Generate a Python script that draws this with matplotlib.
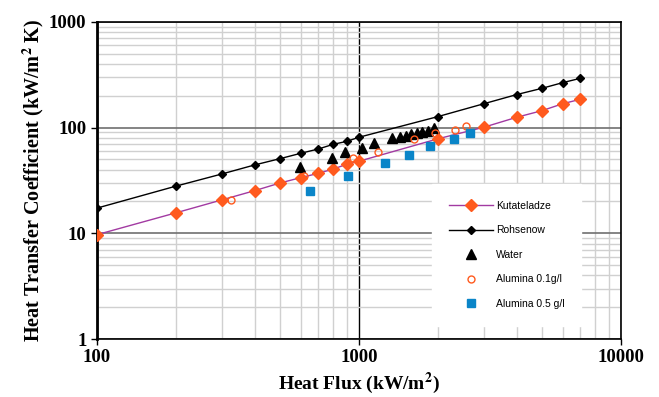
import numpy as np
import matplotlib.pyplot as plt
from matplotlib.ticker import LogLocator, NullFormatter, FixedLocator

# data
q_model = [100, 200, 300, 400, 500, 600, 700, 800, 900, 1000, 2000, 3000, 4000, 5000, 6000, 7000]
h_kutateladze = [9.7, 15.6, 20.7, 25.3, 29.9, 33.6, 36.9, 40.6, 45.0, 48.0, 78.2, 100.7, 125, 144.5, 168, 185]
h_rohsenow = [17.3, 27.9, 36.4, 44.3, 50.8, 57.1, 62.7, 69.5, 74.1, 80.9, 126.8, 168, 205, 235, 266, 292]

q_water = [597, 790, 886, 1027, 1145, 1340, 1434, 1508, 1575, 1661, 1747, 1843, 1938]
h_water = [42.7, 51.8, 58.4, 63.7, 71.0, 79.2, 82.0, 83.8, 87.0, 88.3, 91.5, 93.5, 98.5]

q_al01 = [325, 620, 954, 1180, 1622, 1954, 2327, 2566]
h_al01 = [20.5, 35.1, 51.2, 58.8, 77.5, 89.5, 94.9, 103.5]

q_al05 = [650, 910, 1262, 1548, 1863, 2307, 2666]
h_al05 = [25.1, 34.6, 45.9, 54.7, 66.5, 77.5, 88.3]

plt.rcParams['mathtext.fontset'] = 'stix'

fig = plt.figure(figsize=(6.59, 3.97), dpi=100)
ax = fig.add_axes([0.147, 0.146, 0.795, 0.799])

ax.plot(q_model, h_kutateladze, color='#a23aa2', lw=1.0, marker='D', ms=6,
        mfc='#ff5a1e', mec='#ff5a1e', label='Kutateladze', zorder=4)
ax.plot(q_model, h_rohsenow, color='black', lw=1.0, marker='D', ms=4.5,
        mfc='black', mec='black', label='Rohsenow', zorder=4)
ax.plot(q_water, h_water, ls='none', marker='^', ms=6.5, color='black',
        label='Water', zorder=5)
ax.plot(q_al01, h_al01, ls='none', marker='o', ms=5, mfc='none',
        mec='#ff5a1e', mew=1.0, label='Alumina 0.1g/l', zorder=5)
ax.plot(q_al05, h_al05, ls='none', marker='s', ms=5.5, color='#0a85c8',
        label='Alumina 0.5 g/l', zorder=5)

ax.set_xscale('log')
ax.set_yscale('log')
ax.set_xlim(100, 10000)
ax.set_ylim(1, 1000)

# grid: light minor lines, darker major lines
ax.xaxis.set_minor_locator(LogLocator(base=10, subs=np.arange(2, 10)))
ax.yaxis.set_minor_locator(LogLocator(base=10, subs=np.arange(2, 10)))
ax.xaxis.set_minor_formatter(NullFormatter())
ax.yaxis.set_minor_formatter(NullFormatter())
ax.grid(which='minor', color='#d0d0d0', lw=1.0)
ax.grid(which='major', axis='y', color='#707070', lw=1.2)
ax.grid(which='major', axis='x', color='black', lw=1.0)
ax.set_axisbelow(True)

ax.xaxis.set_major_locator(FixedLocator([100, 1000, 10000]))
ax.yaxis.set_major_locator(FixedLocator([1, 10, 100, 1000]))
ax.set_xticklabels(['100', '1000', '10000'])
ax.set_yticklabels(['1', '10', '100', '1000'])
ax.tick_params(which='major', direction='out', length=4, width=1)
ax.tick_params(which='minor', length=0)
for lab in ax.get_xticklabels() + ax.get_yticklabels():
    lab.set_fontfamily('Liberation Serif')
    lab.set_fontweight('bold')
    lab.set_fontsize(13.5)

ax.spines['left'].set_linewidth(2)
for s in ['top', 'right', 'bottom']:
    ax.spines[s].set_linewidth(1.2)

ax.set_xlabel(r'Heat Flux (kW/m$^{\mathbf{2}}$)', fontfamily='Liberation Serif',
              fontweight='bold', fontsize=14, labelpad=3)
ax.set_ylabel(r'Heat Transfer Coefficient (kW/m$^{\mathbf{2}}$ K)',
              fontfamily='Liberation Serif', fontweight='bold', fontsize=14.5, labelpad=2)

leg = ax.legend(loc='upper left', bbox_to_anchor=(0.630, 0.505), frameon=True,
                facecolor='white', edgecolor='white', framealpha=1, fancybox=False,
                prop={'family': 'Liberation Sans', 'size': 7.5}, handlelength=4.2,
                labelspacing=1.4, borderpad=1.6, handletextpad=0.3)
leg.set_zorder(6)

fig.savefig('out.png', dpi=100)
